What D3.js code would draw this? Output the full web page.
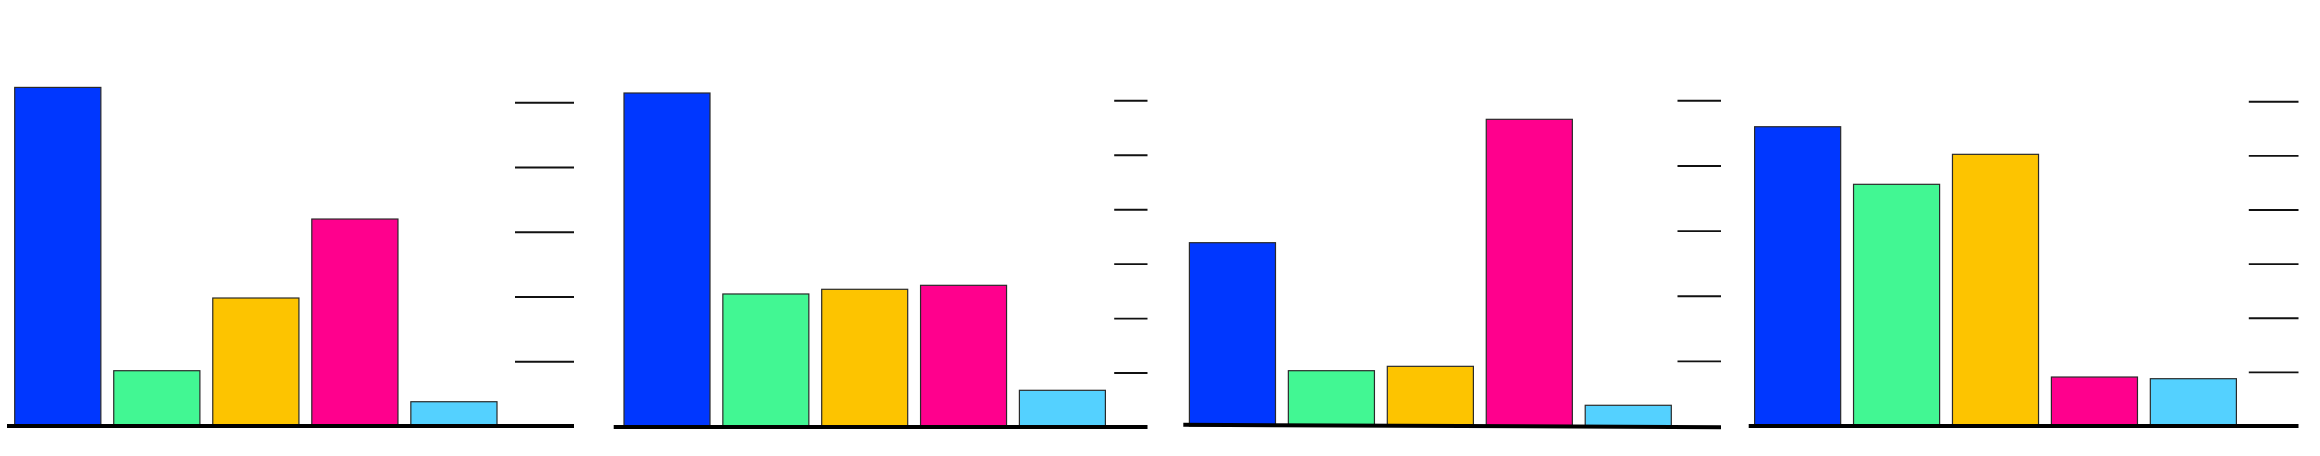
<!DOCTYPE html>
<html>
<head>
<meta charset="utf-8">
<script src="https://cdn.jsdelivr.net/npm/d3@7"></script>
<style>
  html, body { margin: 0; padding: 0; background: #ffffff; }
  svg { display: block; }
</style>
</head>
<body>
<svg id="chart" width="2320" height="456"></svg>
<script>
// ---- data ----
const categories = ["A", "B", "C", "D", "E"];
const barColors = ["#0037ff", "#42f793", "#fdc400", "#ff008d", "#54d1ff"];

const panel1Values = [5.23, 0.854, 1.977, 3.197, 0.375];
const panel2Values = [6.134, 2.443, 2.529, 2.602, 0.674];
const panel3Values = [2.814, 0.849, 0.916, 4.708, 0.318];
const panel4Values = [5.53, 4.466, 5.02, 0.905, 0.874];

const panel1Ticks = [1, 2, 3, 4, 5];
const panel2Ticks = [1, 2, 3, 4, 5, 6];
const panel3Ticks = [1, 2, 3, 4, 5];
const panel4Ticks = [1, 2, 3, 4, 5, 6];

// ---- layout (positions only) ----
const layouts = [
  { values: panel1Values, ticks: panel1Ticks, bars: [14.7, 497.0], base: [7, 574], tickX: [515, 574], y: [426, 102.3], tilt: 0 },
  { values: panel2Values, ticks: panel2Ticks, bars: [624.0, 1105.4], base: [613.7, 1147.5], tickX: [1114.2, 1147.5], y: [427, 100.3], tilt: 0 },
  { values: panel3Values, ticks: panel3Ticks, bars: [1189.4, 1671.3], base: [1183.3, 1721], tickX: [1677.5, 1721], y: [426, 100.3], tilt: 2.5 },
  { values: panel4Values, ticks: panel4Ticks, bars: [1754.6, 2236.4], base: [1748.7, 2298.5], tickX: [2248.8, 2298.5], y: [426, 101.3], tilt: 0 }
];

const svg = d3.select("#chart");

layouts.forEach(L => {
  const g = svg.append("g");
  const x = d3.scaleBand().domain(categories).range(L.bars).paddingInner(0.13).paddingOuter(0);
  const topVal = L.ticks[L.ticks.length - 1];
  const y = d3.scaleLinear().domain([0, topVal]).range(L.y);

  // bars
  g.selectAll("rect.bar")
    .data(categories.map((c, i) => ({ c, v: L.values[i], color: barColors[i] })))
    .join("rect")
    .attr("class", "bar")
    .attr("x", d => x(d.c))
    .attr("width", x.bandwidth())
    .attr("y", d => y(d.v))
    .attr("height", d => y(0) - y(d.v))
    .attr("fill", d => d.color)
    .attr("stroke", "#2a2a2a")
    .attr("stroke-width", 1.2);

  // tick marks on the right (no labels)
  const axis = d3.axisRight(y)
    .tickValues(L.ticks)
    .tickSize(L.tickX[1] - L.tickX[0])
    .tickFormat("");
  const ag = g.append("g")
    .attr("transform", `translate(${L.tickX[0]},0)`)
    .call(axis);
  ag.select(".domain").remove();
  ag.selectAll(".tick line").attr("stroke", "#111").attr("stroke-width", 1.9);

  // baseline
  g.append("line")
    .attr("x1", L.base[0]).attr("x2", L.base[1])
    .attr("y1", y(0) - L.tilt / 2).attr("y2", y(0) + L.tilt / 2)
    .attr("stroke", "#000")
    .attr("stroke-width", 4);
});
</script>
</body>
</html>
